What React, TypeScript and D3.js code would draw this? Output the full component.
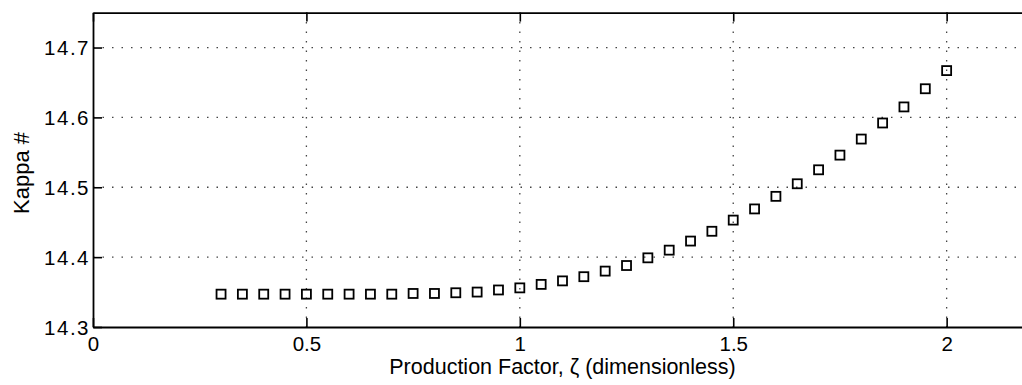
import React, { useEffect, useRef } from 'react';
import * as d3 from 'd3';

// production factor values (x) and kappa numbers
const zeta = [
  0.3, 0.35, 0.4, 0.45, 0.5, 0.55, 0.6, 0.65, 0.7, 0.75, 0.8, 0.85, 0.9, 0.95,
  1.0, 1.05, 1.1, 1.15, 1.2, 1.25, 1.3, 1.35, 1.4, 1.45, 1.5, 1.55, 1.6, 1.65,
  1.7, 1.75, 1.8, 1.85, 1.9, 1.95, 2.0,
];
const kappa = [
  14.347, 14.347, 14.347, 14.347, 14.347, 14.347, 14.347, 14.347, 14.347, 14.348,
  14.348, 14.349, 14.35, 14.353, 14.356, 14.361, 14.366, 14.372, 14.38, 14.388,
  14.399, 14.41, 14.423, 14.437, 14.453, 14.469, 14.487, 14.505, 14.525, 14.546,
  14.569, 14.592, 14.615, 14.641, 14.667,
];
const xTicks = [0, 0.5, 1, 1.5, 2];
const yTicks = [14.3, 14.4, 14.5, 14.6, 14.7];

const W = 1022;
const H = 385;
const FONT = '"Liberation Sans", Arial, Helvetica, sans-serif';

const App = () => {
  const svgRef = useRef<SVGSVGElement>(null);

  useEffect(() => {
    const svg = d3.select(svgRef.current);
    svg.selectAll('*').remove();

    const x = d3.scaleLinear().domain([0, 2.2]).range([93, 1032]);
    const y = d3.scaleLinear().domain([14.3, 14.75]).range([327, 12.6]);
    const [top, bottom] = [y(14.75), y(14.3)];

    // dotted grid
    const grid = svg.append('g')
      .attr('stroke', '#444')
      .attr('stroke-width', 1.3)
      .attr('stroke-dasharray', '1.5 8');
    grid.selectAll('.gx')
      .data(xTicks.filter(d => d > 0))
      .join('line')
      .attr('x1', d => x(d)).attr('x2', d => x(d))
      .attr('y1', top).attr('y2', bottom);
    grid.selectAll('.gy')
      .data(yTicks.filter(d => d > 14.3))
      .join('line')
      .attr('x1', x(0)).attr('x2', W)
      .attr('y1', d => y(d)).attr('y2', d => y(d));

    // axes, ticks pointing inward
    const xAxis = svg.append('g')
      .attr('transform', `translate(0, ${bottom})`)
      .call(d3.axisBottom(x).tickValues(xTicks).tickSizeInner(-9).tickSizeOuter(0)
        .tickPadding(9).tickFormat(d => String(d)));
    svg.append('g')
      .attr('transform', `translate(0, ${top})`)
      .call(d3.axisTop(x).tickValues(xTicks).tickSizeInner(-9).tickSizeOuter(0)
        .tickFormat(() => ''));
    const yAxis = svg.append('g')
      .attr('transform', `translate(${x(0)}, 0)`)
      .call(d3.axisLeft(y).tickValues(yTicks).tickSizeInner(-9).tickSizeOuter(0)
        .tickPadding(3).tickFormat(d3.format('.1f')));

    svg.selectAll('.domain').attr('stroke', '#000').attr('stroke-width', 1.8);
    svg.selectAll('.tick line').attr('stroke', '#000').attr('stroke-width', 1.6);
    svg.selectAll('.tick text')
      .attr('fill', '#000')
      .style('font-family', FONT)
      .style('font-size', '20.5px');
    yAxis.selectAll('.tick text').attr('dy', '0.36em').style('letter-spacing', '1.5px');
    xAxis.selectAll('.tick text').attr('dy', '0.71em');

    // data markers
    svg.append('g')
      .selectAll('rect')
      .data(zeta.map((z, i) => [z, kappa[i]]))
      .join('rect')
      .attr('x', d => x(d[0]) - 4.5)
      .attr('y', d => y(d[1]) - 4.5)
      .attr('width', 9)
      .attr('height', 9)
      .attr('fill', 'none')
      .attr('stroke', '#000')
      .attr('stroke-width', 1.8);

    // axis labels
    svg.append('text')
      .attr('x', (x(0) + x(2.2)) / 2)
      .attr('y', 374)
      .attr('text-anchor', 'middle')
      .style('font-family', FONT)
      .style('font-size', '21.5px')
      .text('Production Factor, ζ (dimensionless)');
    svg.append('text')
      .attr('transform', `translate(28.5, 173) rotate(-90)`)
      .attr('text-anchor', 'middle')
      .style('font-family', FONT)
      .style('font-size', '22px')
      .text('Kappa #');
  }, []);

  return (
    <svg
      ref={svgRef}
      width={W}
      height={H}
      style={{ position: 'absolute', left: 0, top: 0, background: '#fff' }}
    />
  );
};

export default App;
